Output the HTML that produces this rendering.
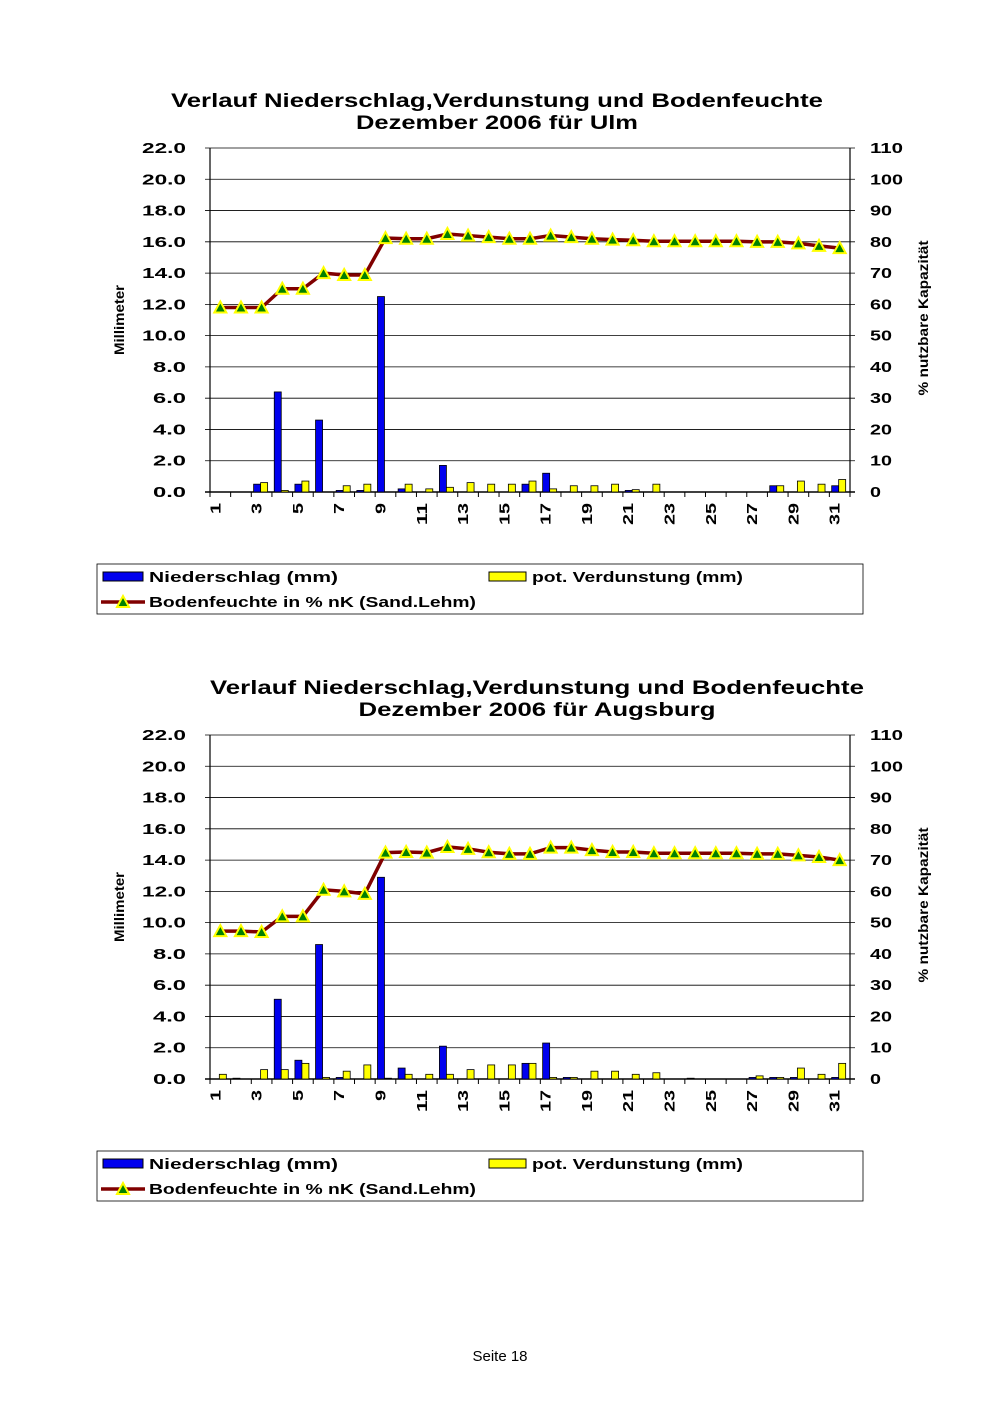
<!DOCTYPE html>
<html><head><meta charset="utf-8"><style>
body{margin:0;background:#fff;width:1000px;height:1415px;overflow:hidden}
svg{position:absolute;left:0;top:0}
text{font-family:"Liberation Sans",Arial,sans-serif}
</style></head><body>
<svg id="s" width="1000" height="1415" xmlns="http://www.w3.org/2000/svg"></svg>
<script>
const s=document.getElementById('s');let h='';
const L=210,R=850,W=(R-L)/31;
function cx(d){return L+(d-0.5)*W}
function T(x,y,fs,len,txt,anchor,extra){return `<text x="${x}" y="${y}" font-size="${fs}" font-weight="bold" text-anchor="${anchor||'start'}" textLength="${len}" lengthAdjust="spacingAndGlyphs" ${extra||''}>${txt}</text>`}
function chart(top,title2,tcx,l1,l2,N,V,B){
 const bot=top+344,py=v=>bot-v*344/22;
 h+=T(tcx,top-41,19,l1,"Verlauf Niederschlag,Verdunstung und Bodenfeuchte","middle");
 h+=T(tcx,top-19,19,l2,title2,"middle");
 for(let i=0;i<=11;i++){const y=bot-i*344/11;
  h+=`<line x1="${L-5}" y1="${y}" x2="${R+5}" y2="${y}" stroke="#000" stroke-width="${i==0?1.5:0.8}"/>`;
  const lab=(i*2).toFixed(1);
  h+=T(186,y+5,15,lab.length==4?44:33,lab,"end");
  const r=String(i*10);h+=T(870,y+5,15,r.length*11,r);}
 h+=`<line x1="${L}" y1="${top}" x2="${L}" y2="${bot}" stroke="#000" stroke-width="1.2"/><line x1="${R}" y1="${top}" x2="${R}" y2="${bot}" stroke="#000" stroke-width="1.2"/>`;
 for(let d=0;d<=31;d++){const x=L+d*W;h+=`<line x1="${x}" y1="${bot}" x2="${x}" y2="${bot+5}" stroke="#000"/>`;}
 for(let d=1;d<=31;d+=2){const t=String(d);h+=`<text transform="translate(${cx(d)},${bot+11}) rotate(-90)" font-size="15" font-weight="bold" text-anchor="end" textLength="${t.length*11}" lengthAdjust="spacingAndGlyphs">${t}</text>`;}
 h+=`<text transform="translate(124,${top+172}) rotate(-90)" font-size="14" font-weight="bold" text-anchor="middle" textLength="70" lengthAdjust="spacingAndGlyphs">Millimeter</text>`;
 h+=`<text transform="translate(928,${top+170}) rotate(-90)" font-size="14" font-weight="bold" text-anchor="middle" textLength="155" lengthAdjust="spacingAndGlyphs">% nutzbare Kapazität</text>`;
 for(let d=1;d<=31;d++){const n=N[d]||0,v=V[d]||0,x=cx(d);
  if(n>0)h+=`<rect x="${x-8}" y="${py(n)}" width="7" height="${bot-py(n)}" fill="#0000ee" stroke="#000" stroke-width="0.8"/>`;
  if(v>0)h+=`<rect x="${x-1}" y="${py(v)}" width="7" height="${bot-py(v)}" fill="#ffff00" stroke="#000" stroke-width="0.8"/>`;}
 const pp=B.map((b,i)=>`${cx(i+1)},${bot-b*344/110}`).join(' ');
 h+=`<polyline points="${pp}" fill="none" stroke="#800000" stroke-width="3.5"/>`;
 B.forEach((b,i)=>{const x=cx(i+1),y=bot-b*344/110;h+=`<polygon points="${x-6},${y+5} ${x+6},${y+5} ${x},${y-6}" fill="#008000" stroke="#ffff00" stroke-width="2"/>`;});
 const ly=bot+72;
 h+=`<rect x="97" y="${ly}" width="766" height="50" fill="#fff" stroke="#000" stroke-width="0.8"/>`;
 h+=`<rect x="103" y="${ly+8}" width="40" height="9" fill="#0000ee" stroke="#000"/>`+T(149,ly+18,15,189,"Niederschlag (mm)");
 h+=`<rect x="489" y="${ly+8}" width="37" height="9" fill="#ffff00" stroke="#000"/>`+T(532,ly+18,15,211,"pot. Verdunstung (mm)");
 h+=`<line x1="101" y1="${ly+38}" x2="145" y2="${ly+38}" stroke="#800000" stroke-width="3.5"/><polygon points="117,${ly+43} 129,${ly+43} 123,${ly+32}" fill="#008000" stroke="#ffff00" stroke-width="2"/>`+T(149,ly+43,15,327,"Bodenfeuchte in % nK (Sand.Lehm)");
}
chart(148,"Dezember 2006 für Ulm",497,652,282,
 {3:.5,4:6.4,5:.5,6:4.6,7:.1,8:.1,9:12.5,10:.2,12:1.7,16:.5,17:1.2,21:.1,28:.4,31:.4},
 {3:.6,4:.1,5:.7,7:.4,8:.5,10:.5,11:.2,12:.3,13:.6,14:.5,15:.5,16:.7,17:.2,18:.4,19:.4,20:.5,21:.15,22:.5,28:.4,29:.7,30:.5,31:.8},
 [59,59,59,65,65,70,69.4,69.4,81.2,81,81,82.5,82,81.5,81,81,82,81.5,81,80.7,80.5,80.2,80.2,80.2,80.2,80.2,80,80,79.5,78.7,78]);
chart(735,"Dezember 2006 für Augsburg",537,654,357,
 {2:.05,4:5.1,5:1.2,6:8.6,7:.1,9:12.9,10:.7,12:2.1,16:1.0,17:2.3,18:.1,24:.05,27:.1,28:.1,29:.1,31:.1},
 {1:.3,3:.6,4:.6,5:1.0,6:.1,7:.5,8:.9,9:.05,10:.3,11:.3,12:.3,13:.6,14:.9,15:.9,16:1.0,17:.1,18:.1,19:.5,20:.5,21:.3,22:.4,27:.2,28:.1,29:.7,30:.3,31:1.0},
 [47.3,47.3,47,52,52,60.5,60,59.2,72.4,72.6,72.4,74.2,73.6,72.5,72,72,74,74,73.2,72.6,72.6,72.2,72.2,72.2,72.2,72.2,72,72,71.5,71,70]);
h+=`<text x="500" y="1361" font-size="15" text-anchor="middle">Seite 18</text>`;
s.innerHTML=h;
</script>
</body></html>
